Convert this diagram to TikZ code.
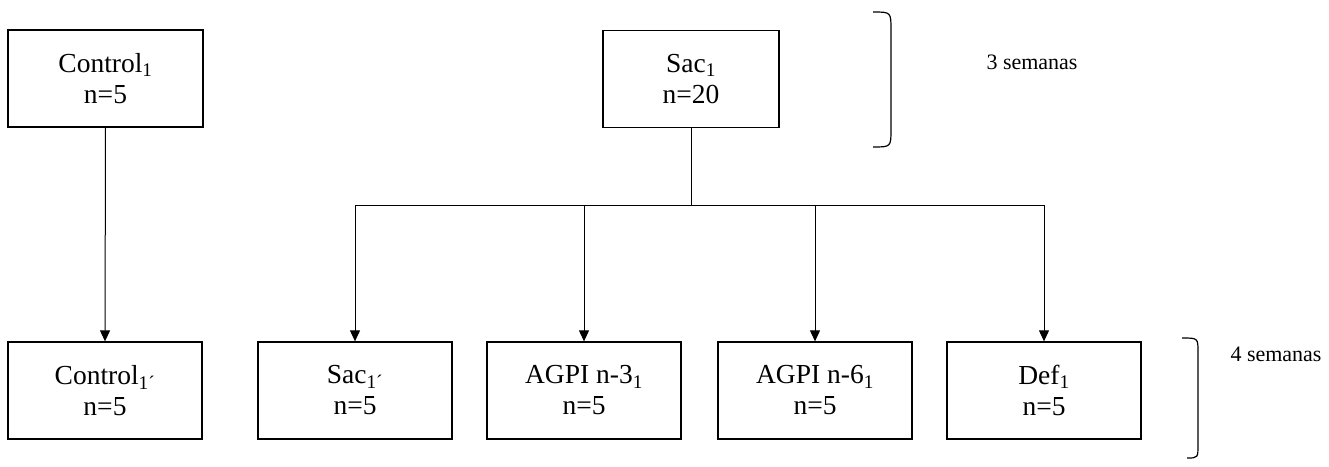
\documentclass[tikz,border=0pt]{standalone}
\usepackage{fontspec}
\setmainfont{Liberation Serif}
\usetikzlibrary{arrows.meta}

\tikzset{
    groupbox/.style={draw, line width=1.3pt, minimum height=97pt, align=center,
        font=\fontsize{27.5}{31}\selectfont, inner sep=0pt},
    flow/.style={line width=1pt, -{Triangle[length=11pt,width=10pt]}},
    bracket/.style={line width=1.2pt},
}

\begin{document}
\begin{tikzpicture}[x=1pt, y=-1pt]
    \useasboundingbox (0,0) rectangle (1329,466);

    % Define the boxes of the first period
    \node[groupbox, minimum width=195pt] (control) at (105.5,78.5) {Control\textsubscript{1}\\n=5};
    \node[groupbox, minimum width=176pt] (sac) at (691,79) {Sac\textsubscript{1}\\n=20};

    % Define the boxes of the second period
    \node[groupbox, minimum width=194pt] (controlb) at (105,390.5) {Control\textsubscript{1´}\\n=5};
    \node[groupbox, minimum width=194pt] (sacb) at (355,390.5) {Sac\textsubscript{1´}\\n=5};
    \node[groupbox, minimum width=194pt] (agpitres) at (584,390.5) {AGPI n-3\textsubscript{1}\\n=5};
    \node[groupbox, minimum width=194pt] (agpiseis) at (815,390.5) {AGPI n-6\textsubscript{1}\\n=5};
    \node[groupbox, minimum width=194pt] (def) at (1044,390.5) {Def\textsubscript{1}\\n=5};

    % Draw the arrows
    \coordinate (split) at (691,205);
    \draw[line width=1pt] (sac.south) -- (split);
    \draw[line width=1pt] (sacb.north |- split) -- (def.north |- split);
    \draw[flow] (control.south) -- (controlb.north);
    \foreach \dest in {sacb, agpitres, agpiseis, def}
        \draw[flow] (\dest.north |- split) -- (\dest.north);

    % Draw the brackets
    \coordinate (topa) at (873,12);
    \coordinate (topb) at (873,147);
    \draw[bracket] (topa) .. controls (891,12) .. (891,30) -- (891,129) .. controls (891,147) .. (topb);
    \coordinate (bota) at (1182,338);
    \coordinate (botb) at (1187,458);
    \draw[bracket] (bota) .. controls (1198,338) .. (1198,352) -- (1198,444) .. controls (1198,458) .. (botb);

    % Place the labels of the periods
    \node[font=\fontsize{22}{26}\selectfont] (tres) at (1032,62) {3 semanas};
    \node[font=\fontsize{22}{26}\selectfont] (cuatro) at (1276,354) {4 semanas};

\end{tikzpicture}
\end{document}
